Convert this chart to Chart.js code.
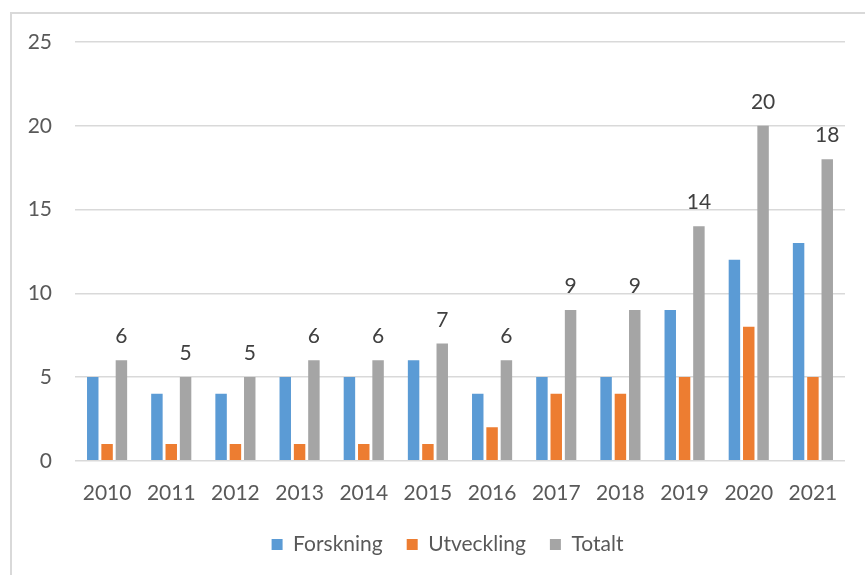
<!DOCTYPE html>
<html>
<head>
<meta charset="utf-8">
<script src="https://cdn.jsdelivr.net/npm/chart.js@4.4.1/dist/chart.umd.min.js"></script>
<style>
  html, body { margin: 0; padding: 0; background: #fff; }
  #wrap { position: relative; width: 865px; height: 575px; overflow: hidden; }
  #frame {
    position: absolute; left: 10px; top: 12px; width: 900px; height: 600px;
    border-left: 2px solid #d9d9d9; border-top: 2px solid #d9d9d9;
  }
  canvas { position: absolute; left: 0; top: 0; }
</style>
</head>
<body>
<div id="wrap">
  <div id="frame"></div>
  <canvas id="chart" width="865" height="575"></canvas>
</div>
<script>
// Data
const years = ['2010', '2011', '2012', '2013', '2014', '2015', '2016', '2017', '2018', '2019', '2020', '2021'];
const forskning = [5, 4, 4, 5, 5, 6, 4, 5, 5, 9, 12, 13];
const utveckling = [1, 1, 1, 1, 1, 1, 2, 4, 4, 5, 8, 5];
const totalt = [6, 5, 5, 6, 6, 7, 6, 9, 9, 14, 20, 18];

const FONT = 'Lato, "Open Sans", sans-serif';
const FONT_SIZE = 21;

// Enkel plugin för värdeetiketter ovanför Totalt-staplarna
const totalLabels = {
    id: 'totalLabels',
    afterLayout(chart) {
        // flytta förklaringen lite åt höger, som i originalet
        if (chart.legend) {
            chart.legend.left += 25;
            chart.legend.right += 25;
        }
    },
    afterDatasetsDraw(chart) {
        const ctx = chart.ctx;
        const meta = chart.getDatasetMeta(2);
        ctx.save();
        ctx.font = FONT_SIZE + 'px ' + FONT;
        ctx.fillStyle = '#404040';
        ctx.textAlign = 'center';
        ctx.textBaseline = 'alphabetic';
        meta.data.forEach((bar, i) => {
            ctx.fillText(String(totalt[i]), bar.x, bar.y - 17);
        });
        ctx.restore();
    }
};

const ctx = document.getElementById('chart').getContext('2d');
new Chart(ctx, {
    type: 'bar',
    data: {
        labels: years,
        datasets: [
            { label: 'Forskning', data: forskning, backgroundColor: '#5B9BD5' },
            { label: 'Utveckling', data: utveckling, backgroundColor: '#ED7D31' },
            { label: 'Totalt', data: totalt, backgroundColor: '#A5A5A5' }
        ]
    },
    options: {
        responsive: false,
        animation: false,
        devicePixelRatio: 1,
        categoryPercentage: 0.67,
        barPercentage: 0.8,
        layout: { padding: { left: 0, right: 20, top: 42, bottom: 10 } },
        scales: {
            x: {
                grid: { display: false, drawTicks: false },
                border: { display: false },
                ticks: { color: '#595959', font: { family: FONT, size: FONT_SIZE }, padding: 20 },
                afterFit: (axis) => { axis.height -= 16; }
            },
            y: {
                min: 0,
                max: 25,
                grid: { color: '#d9d9d9', lineWidth: 1.5, drawTicks: false },
                border: { display: false },
                ticks: { stepSize: 5, color: '#595959', font: { family: FONT, size: FONT_SIZE }, padding: 23 },
                afterFit: (axis) => { axis.width = 75; }
            }
        },
        plugins: {
            legend: {
                position: 'bottom',
                labels: {
                    boxWidth: 11,
                    boxHeight: 11,
                    padding: 24,
                    color: '#595959',
                    font: { family: FONT, size: FONT_SIZE }
                }
            },
            tooltip: { enabled: false }
        }
    },
    plugins: [totalLabels]
});
</script>
</body>
</html>
